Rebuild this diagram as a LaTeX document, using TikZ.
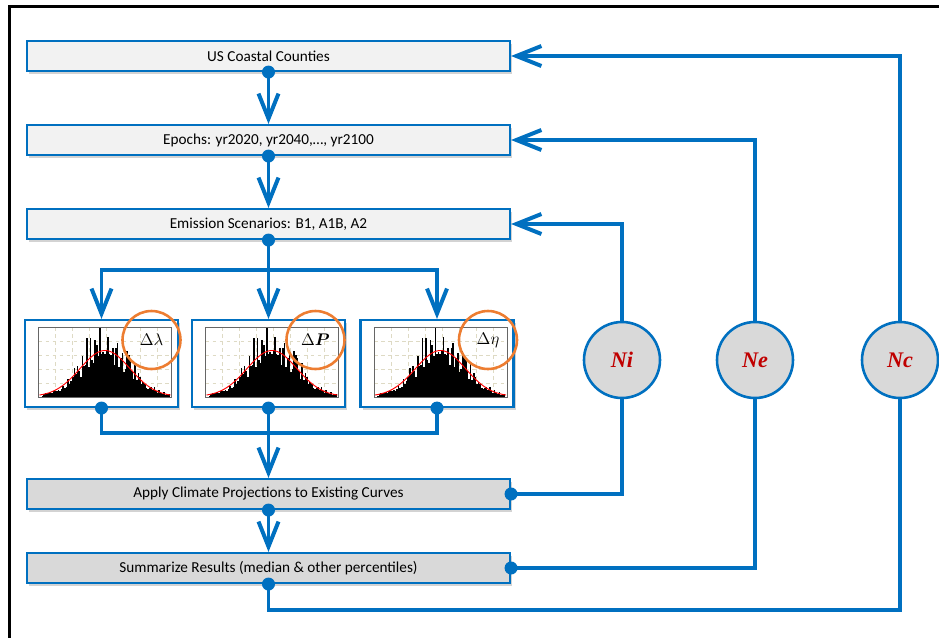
\documentclass[tikz,border=0pt]{standalone}
\usepackage{fontspec}
\setmainfont{Carlito}
\newfontfamily\labelserif{Liberation Serif}
\usepackage{bm}
\usetikzlibrary{arrows.meta,positioning,shadows}

\definecolor{flowblue}{RGB}{0,112,192}
\definecolor{boxlight}{RGB}{242,242,242}
\definecolor{boxdark}{RGB}{217,217,217}
\definecolor{ringorange}{RGB}{237,125,49}
\definecolor{nred}{RGB}{192,0,0}
\definecolor{gridtan}{RGB}{222,218,196}

\tikzset{
  boxshadow/.style={drop shadow={shadow xshift=0.07cm,shadow yshift=-0.09cm,opacity=0.35}},
  stagebox/.style={draw=flowblue,line width=1.8pt,fill=boxlight,minimum width=14.49cm,
    minimum height=0.9cm,inner sep=0pt,font=\fontsize{13}{15}\selectfont,boxshadow},
  darkbox/.style={stagebox,fill=boxdark},
  histbox/.style={draw=flowblue,line width=1.8pt,fill=white,minimum width=4.59cm,
    minimum height=2.61cm,inner sep=0pt,boxshadow},
  nodecirc/.style={circle,draw=flowblue,line width=2.2pt,fill=boxdark,minimum size=2.28cm,
    text=nred,font=\labelserif\bfseries\itshape\fontsize{19}{19}\selectfont},
  ring/.style={circle,draw=ringorange,line width=2.2pt,minimum size=1.74cm,inner sep=0pt,
    font=\fontsize{15}{15}\selectfont},
  link/.style={draw=flowblue,line width=3.4pt},
  flow/.style={link,-{Straight Barb[length=0.75cm,width=0.6cm]}},
  flowboth/.style={link,{Straight Barb[length=0.75cm,width=0.6cm]}-{Straight Barb[length=0.75cm,width=0.6cm]}},
  histo/.pic={
    \fill[white] (-63,-36.5) rectangle (70,33.5);
    \foreach \gx in {-46,-29,...,60} \draw[gridtan,dashed,line width=0.4pt] (\gx,-36.5) -- (\gx,33.5);
    \foreach \gy in {-22,-8,...,30} \draw[gridtan,dashed,line width=0.4pt] (-63,\gy) -- (70,\gy);
    \pgfmathsetseed{42}
    \foreach \i in {0,...,79}{
      \pgfmathsetmacro\bx{-60+1.6*\i}
      \pgfmathsetmacro\bh{46*exp(-0.5*((\bx+0.8-3.5)/24)^2)*(0.7+0.75*rnd^2+0.25*rnd)+1.5*rnd}
      \fill[black] (\bx,33.5) rectangle ++(1.6,-\bh);
    }
    \draw[red,line width=0.8pt] plot[domain=-62:69,samples=70] (\x,{33-46*exp(-0.5*((\x-3.5)/25)^2)});
    \draw[black!60,line width=0.5pt] (-63,-36.5) rectangle (70,33.5);
  }
}

\begin{document}
\begin{tikzpicture}[x=0.03cm,y=-0.03cm]
\useasboundingbox (0,0) rectangle (939,638);
\draw[line width=2.3pt] (9.5,640) -- (9.5,6.5) -- (940,6.5);

% main chain
\node[stagebox] (us) at (268.5,56) {US Coastal Counties};
\node[stagebox] (ep) at (268.5,140) {Epochs: yr2020, yr2040,\dots, yr2100};
\node[stagebox] (em) at (268.5,224) {Emission Scenarios: B1, A1B, A2};
\node[darkbox] (ap) at (268.5,494) {Apply Climate Projections to Existing Curves};
\node[darkbox] (su) at (268.5,568) {Summarize Results (median \& other percentiles)};

% change distributions
\node[histbox] (h1) at (101.5,363.5) {};
\node[histbox] (h2) at (268.5,363.5) {};
\node[histbox] (h3) at (437,363.5) {};
\pic at (h1) {histo};
\pic at (h2) {histo};
\pic at (h3) {histo};
\node[ring] (r1) at ([shift={(50,-23.5)}]h1.center) {$\Delta\lambda$};
\node[ring] (r2) at ([shift={(47,-23.5)}]h2.center) {$\Delta\bm{P}$};
\node[ring] (r3) at ([shift={(51,-23.5)}]h3.center) {$\Delta\eta$};

% loop counters
\node[nodecirc] (ni) at (622,360) {Ni};
\node[nodecirc] (ne) at (755,360) {Ne};
\node[nodecirc] (nc) at (900,360) {Nc};

\coordinate (split) at (268.5,270);
\coordinate (merge) at (268.5,433);
\coordinate (low) at (268.5,610);

\draw[flow] (us.south) -- (ep.north);
\draw[flow] (ep.south) -- (em.north);
\draw[flow] (em.south) -- (h2.north);
\draw[flowboth] (h1.north) -- (h1.north |- split) -- (h3.north |- split) -- (h3.north);
\draw[link] (h1.south) -- (h1.south |- merge) -- (h3.south |- merge) -- (h3.south);
\draw[flow] (h2.south) -- (ap.north);
\draw[flow] (ap.south) -- (su.north);

% feedback loops
\draw[flow] (ni.north) |- (em.east);
\draw[link] (ni.south) |- (ap.east);
\draw[flow] (ne.north) |- (ep.east);
\draw[link] (ne.south) |- (su.east);
\draw[flow] (nc.north) |- (us.east);
\draw[link] (su.south) -- (low) -| (nc.south);

\foreach \p in {us.south,ep.south,em.south,h1.south,h2.south,h3.south,ap.south,su.south,ap.east,su.east}
  \fill[flowblue] (\p) circle (6.5);
\end{tikzpicture}
\end{document}
